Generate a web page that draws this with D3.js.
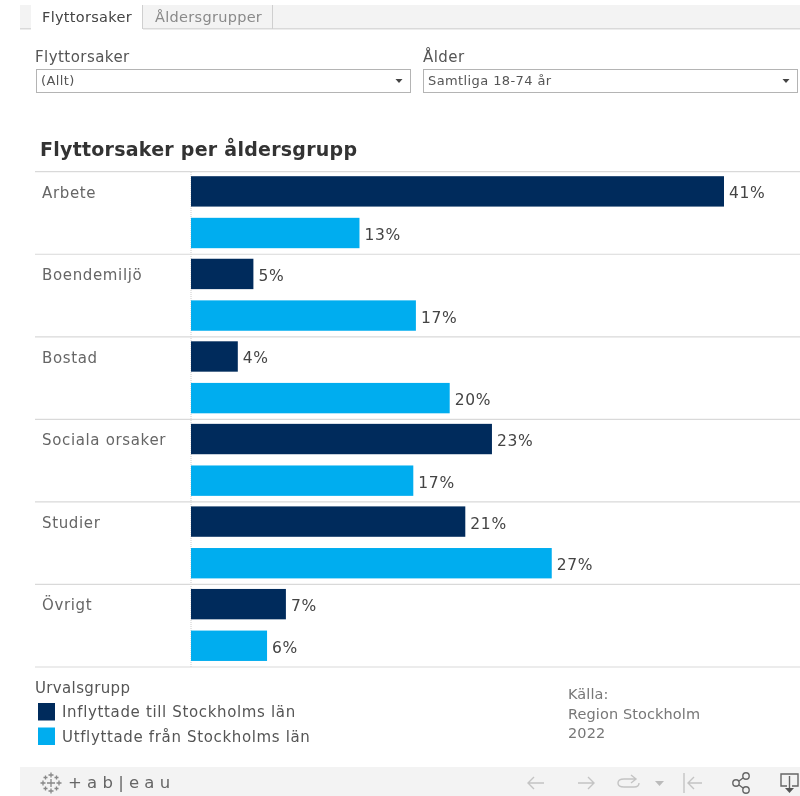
<!DOCTYPE html>
<html><head><meta charset="utf-8">
<script src="https://cdn.jsdelivr.net/npm/d3@7"></script>
<style>html,body{margin:0;padding:0;background:#fff;overflow:hidden}svg{display:block;filter:blur(.35px)}text{font-family:"DejaVu Sans",sans-serif}</style>
</head><body><svg id="c" width="800" height="796"></svg>
<script>
const categories=["Arbete","Boendemiljö","Bostad","Sociala orsaker","Studier","Övrigt"];
const seriesNames=["Inflyttade till Stockholms län","Utflyttade från Stockholms län"];
const inflyttade=[41,4.8,3.6,23.15,21.1,7.3];
const utflyttade=[12.96,17.3,19.9,17.1,27.75,5.85];
const inflyttadeLabels=["41%","5%","4%","23%","21%","7%"];
const utflyttadeLabels=["13%","17%","20%","17%","27%","6%"];
const tabs=["Flyttorsaker","Åldersgrupper"];
const sourceLines=["Källa:","Region Stockholm","2022"];
const colors=["#002b5c","#00adef"];
const svg=d3.select("#c");
const txt=(x,y,s,size,fill,ls,weight)=>svg.append("text").attr("x",x).attr("y",y).attr("font-size",size).attr("letter-spacing",ls||0).attr("fill",fill).attr("font-weight",weight||400).text(s);

// tab bar
svg.append("rect").attr("x",20).attr("y",5).attr("width",780).attr("height",23).attr("fill","#f3f3f3");
svg.append("rect").attr("x",20).attr("y",28).attr("width",780).attr("height",1.5).attr("fill","#d9d9d9");
svg.append("rect").attr("x",31).attr("y",5).attr("width",112).attr("height",25).attr("fill","#fff");
svg.append("rect").attr("x",142).attr("y",5).attr("width",1).attr("height",24).attr("fill","#cfcfcf");
svg.append("rect").attr("x",272).attr("y",5).attr("width",1).attr("height",24).attr("fill","#cfcfcf");
txt(42,22,tabs[0],14.5,"#444",.3);
txt(155,22,tabs[1],14.5,"#8a8a8a",.3);

// filters
txt(35,62,"Flyttorsaker",15,"#555",.45);
txt(423,62,"Ålder",15,"#555",.45);
function dd(x,w,s){
  svg.append("rect").attr("x",x+.5).attr("y",69.5).attr("width",w).attr("height",23).attr("fill","#fff").attr("stroke","#b4b4b4");
  txt(x+5,85,s,13,"#555",.4);
  const ax=x+w-11;
  svg.append("path").attr("d",`M${ax-3.5},79L${ax+3.5},79L${ax},83Z`).attr("fill","#444");
}
dd(36,374,"(Allt)");
dd(423,374,"Samtliga 18-74 år");

// title
txt(40,156,"Flyttorsaker per åldersgrupp",19,"#333",.25,700);

// chart
const x=d3.scaleLinear().domain([0,41]).range([191,724]);
const rows=d3.scaleBand().domain(categories).range([171.7,667]);
const inner=d3.scaleBand().domain([0,1]).range([4.5,76.5]).paddingInner(.27);
svg.append("line").attr("x1",191).attr("x2",191).attr("y1",172).attr("y2",667).attr("stroke","#ccc").attr("stroke-dasharray","1 1");
svg.selectAll("line.r").data(categories.map(c=>rows(c)).concat([667])).join("line").attr("class","r")
  .attr("x1",35).attr("x2",800).attr("y1",d=>d).attr("y2",d=>d).attr("stroke","#d9d9d9").attr("stroke-width",1.2);
categories.forEach((c,i)=>{
  txt(42,rows(c)+26,c,15,"#666",.65);
  [[inflyttade[i],inflyttadeLabels[i]],[utflyttade[i],utflyttadeLabels[i]]].forEach(([v,l],j)=>{
    const y=rows(c)+inner(j);
    svg.append("rect").attr("x",x(0)).attr("y",y).attr("width",x(v)-x(0)).attr("height",inner.bandwidth()).attr("fill",colors[j]);
    txt(x(v)+5,y+inner.bandwidth()/2+7,l,15.5,"#444",.7);
  });
});

// legend
txt(35,693,"Urvalsgrupp",15,"#555",.35);
seriesNames.forEach((s,i)=>{
  const y=703+i*24.5;
  svg.append("rect").attr("x",38).attr("y",y).attr("width",17).attr("height",17.5).attr("fill",colors[i]);
  txt(62,y+14,s,15,"#555",.65);
});
// source
sourceLines.forEach((s,i)=>txt(568,699+i*19.5,s,14.5,"#777",.1));

// toolbar
svg.append("rect").attr("x",20).attr("y",767).attr("width",780).attr("height",29).attr("fill","#f3f3f3");
txt(68,788,"+ a b | e a u",16.5,"#666",0);
const lg=svg.append("g").attr("stroke","#888").attr("stroke-width",1.3);
[[51,783,4],[51,775,2.5],[51,791,2.5],[43,783,2.5],[59,783,2.5],[45.5,777.5,2],[56.5,777.5,2],[45.5,788.5,2],[56.5,788.5,2]].forEach(([a,b,r])=>{
  lg.append("path").attr("d",`M${a-r},${b}H${a+r}M${a},${b-r}V${b+r}`);
});
const g=svg.append("g").attr("fill","none").attr("stroke","#c4c4c4").attr("stroke-width",1.4);
g.append("path").attr("d","M544,783H528M534,777L528,783L534,789M578,783H594M588,777L594,783L588,789");
g.append("path").attr("d","M636,779H624Q618,779 618,783Q618,787 624,787H634Q639,787 639,783M631,775L636,779L631,783");
svg.append("path").attr("d","M655,781H664L659.5,786Z").attr("fill","#bbb");
g.append("path").attr("d","M684,773V793M702,783H688M694,777L688,783L694,789");
const sh=svg.append("g").attr("fill","none").attr("stroke","#666").attr("stroke-width",1.4);
sh.append("circle").attr("cx",736).attr("cy",783).attr("r",3.2);
sh.append("circle").attr("cx",746).attr("cy",776).attr("r",3.2);
sh.append("circle").attr("cx",746).attr("cy",790).attr("r",3.2);
sh.append("path").attr("d","M739,781L743,778M739,785L743,788");
sh.append("path").attr("d","M787,786H781V774H798V786H792M789.5,776V790");
svg.append("path").attr("d","M785,788H794L789.5,793Z").attr("fill","#555");
</script></body></html>
